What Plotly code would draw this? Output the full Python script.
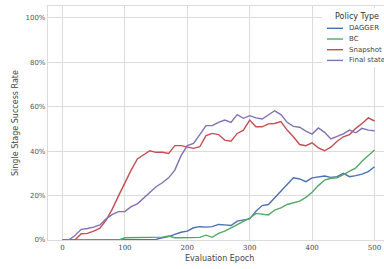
import plotly.graph_objects as go

epochs = list(range(0, 501, 10))

dagger = [0, 0, 0, 0, 0, 0, 0, 0, 0, 0,
          0, 0, 0, 0, 0, 0.3, 1, 1.5, 2.5, 3.5,
          4, 5.5, 6, 5.8, 6, 7, 6.8, 6.5, 8.5, 9,
          9.5, 13, 15.5, 16, 19, 22, 25, 28, 27.5, 26.3,
          28, 28.3, 28.8, 28.2, 28.5, 30, 28.5, 29, 29.7, 30.8,
          33]

bc = [0, 0, 0, 0, 0, 0, 0, 0, 0, 0,
      1, 1, 1, 1, 1, 1, 1.3, 1.8, 1, 1,
      1, 1, 1.2, 2.2, 1.2, 3, 4, 5.5, 7, 8.5,
      9.8, 12, 11.5, 11.3, 13.5, 14.5, 16, 16.8, 17.5, 19.2,
      21.5, 24.5, 27, 27.8, 28, 29.5, 31, 32.5, 35.5, 38,
      40.5]

snapshot = [0, 0, 0, 2.8, 3, 4, 5.3, 9, 14, 20,
            26, 31.5, 36.5, 38.3, 40.2, 39.5, 39.5, 39, 42.5, 42.5,
            41.8, 41.3, 42, 47, 48, 47.5, 45, 44.5, 48, 49.5,
            54, 51, 51, 52.3, 52.5, 53.3, 49.5, 46.5, 43, 42.5,
            43.8, 41.5, 40.2, 41.8, 44.5, 46.5, 47.5, 50.3, 52.5, 55,
            53.6]

final_state = [0, 0, 2, 4.8, 5.2, 5.8, 6.8, 9.5, 11.5, 12.8,
               12.8, 15, 16.3, 19, 21.5, 24, 25.8, 28, 31.5, 38,
               42.5, 43.5, 47.5, 51.5, 51.5, 53, 54, 53, 56.5, 54.8,
               56, 55, 54.5, 56.5, 58.2, 56.5, 53, 51.2, 50.8, 49,
               47.7, 50.5, 48.5, 45.5, 46.5, 47.8, 49.5, 48.3, 50.3, 49.5,
               49.2]

series_names = ["DAGGER", "BC", "Snapshot", "Final state"]
series_values = [dagger, bc, snapshot, final_state]
series_colors = ["#4c72b0", "#55a868", "#c44e52", "#8172b2"]

x_ticks = [0, 100, 200, 300, 400, 500]
y_ticks = [0, 20, 40, 60, 80, 100]
y_tick_labels = ["0%", "20%", "40%", "60%", "80%", "100%"]

GRID = "#dcdcdc"

fig = go.Figure()
for name, vals, col in zip(series_names, series_values, series_colors):
    fig.add_trace(go.Scatter(x=epochs, y=vals, mode="lines", name=name,
                             line=dict(color=col, width=1.4), showlegend=False))

fig.update_layout(
    width=384, height=269,
    margin=dict(l=48, r=0, t=6, b=29),
    paper_bgcolor="white", plot_bgcolor="white",
    font=dict(family="DejaVu Sans", size=8, color="#444444"),
    xaxis=dict(range=[-23.2, 515.2], tickvals=x_ticks, showgrid=True,
               gridcolor=GRID, gridwidth=1.2, zeroline=False,
               showline=True, linecolor=GRID, linewidth=1.2, mirror=True,
               ticks="", tickfont=dict(family="DejaVu Serif", size=7, color="#444444")),
    yaxis=dict(range=[0, 105.4], tickvals=y_ticks, ticktext=y_tick_labels, showgrid=True,
               gridcolor=GRID, gridwidth=1.2, zeroline=False,
               showline=True, linecolor=GRID, linewidth=1.2, mirror=True,
               ticks="", tickfont=dict(family="DejaVu Sans", size=7, color="#555555")),
)

# axis titles
fig.add_annotation(text="Evaluation Epoch", xref="paper", yref="paper",
                   x=(219 - 48) / 336, y=(240 - 258) / 234, showarrow=False,
                   font=dict(size=8, color="#444444"), xanchor="center", yanchor="middle")
fig.add_annotation(text="Single Stage Success Rate", xref="paper", yref="paper",
                   x=(15 - 48) / 336, y=0.5, showarrow=False, textangle=-90,
                   font=dict(size=8, color="#444444"), xanchor="center", yanchor="middle")

# legend (manual, compact like the reference)
def px_x(p):
    return (p - 48) / 336

def px_y(p):
    return (240 - p) / 234

fig.add_shape(type="rect", xref="paper", yref="paper",
              x0=px_x(322), x1=1.0, y0=px_y(67), y1=px_y(8),
              fillcolor="white", line=dict(width=0), layer="above")
fig.add_annotation(text="Policy Type", xref="paper", yref="paper",
                   x=px_x(333), y=px_y(16.7), showarrow=False,
                   font=dict(size=8, color="#333333"), xanchor="left", yanchor="middle")
for i, (name, col) in enumerate(zip(series_names, series_colors)):
    yy = 28.3 + i * 10.7
    fig.add_shape(type="line", xref="paper", yref="paper",
                  x0=px_x(327), x1=px_x(343), y0=px_y(yy), y1=px_y(yy),
                  line=dict(color=col, width=1.4), layer="above")
    fig.add_annotation(text=name, xref="paper", yref="paper",
                       x=px_x(347), y=px_y(yy), showarrow=False,
                       font=dict(size=7, color="#444444"), xanchor="left", yanchor="middle")

fig.write_html("out.html", config={"displayModeBar": False},
               post_script="document.body.style.margin='0';document.body.style.overflow='hidden';")
